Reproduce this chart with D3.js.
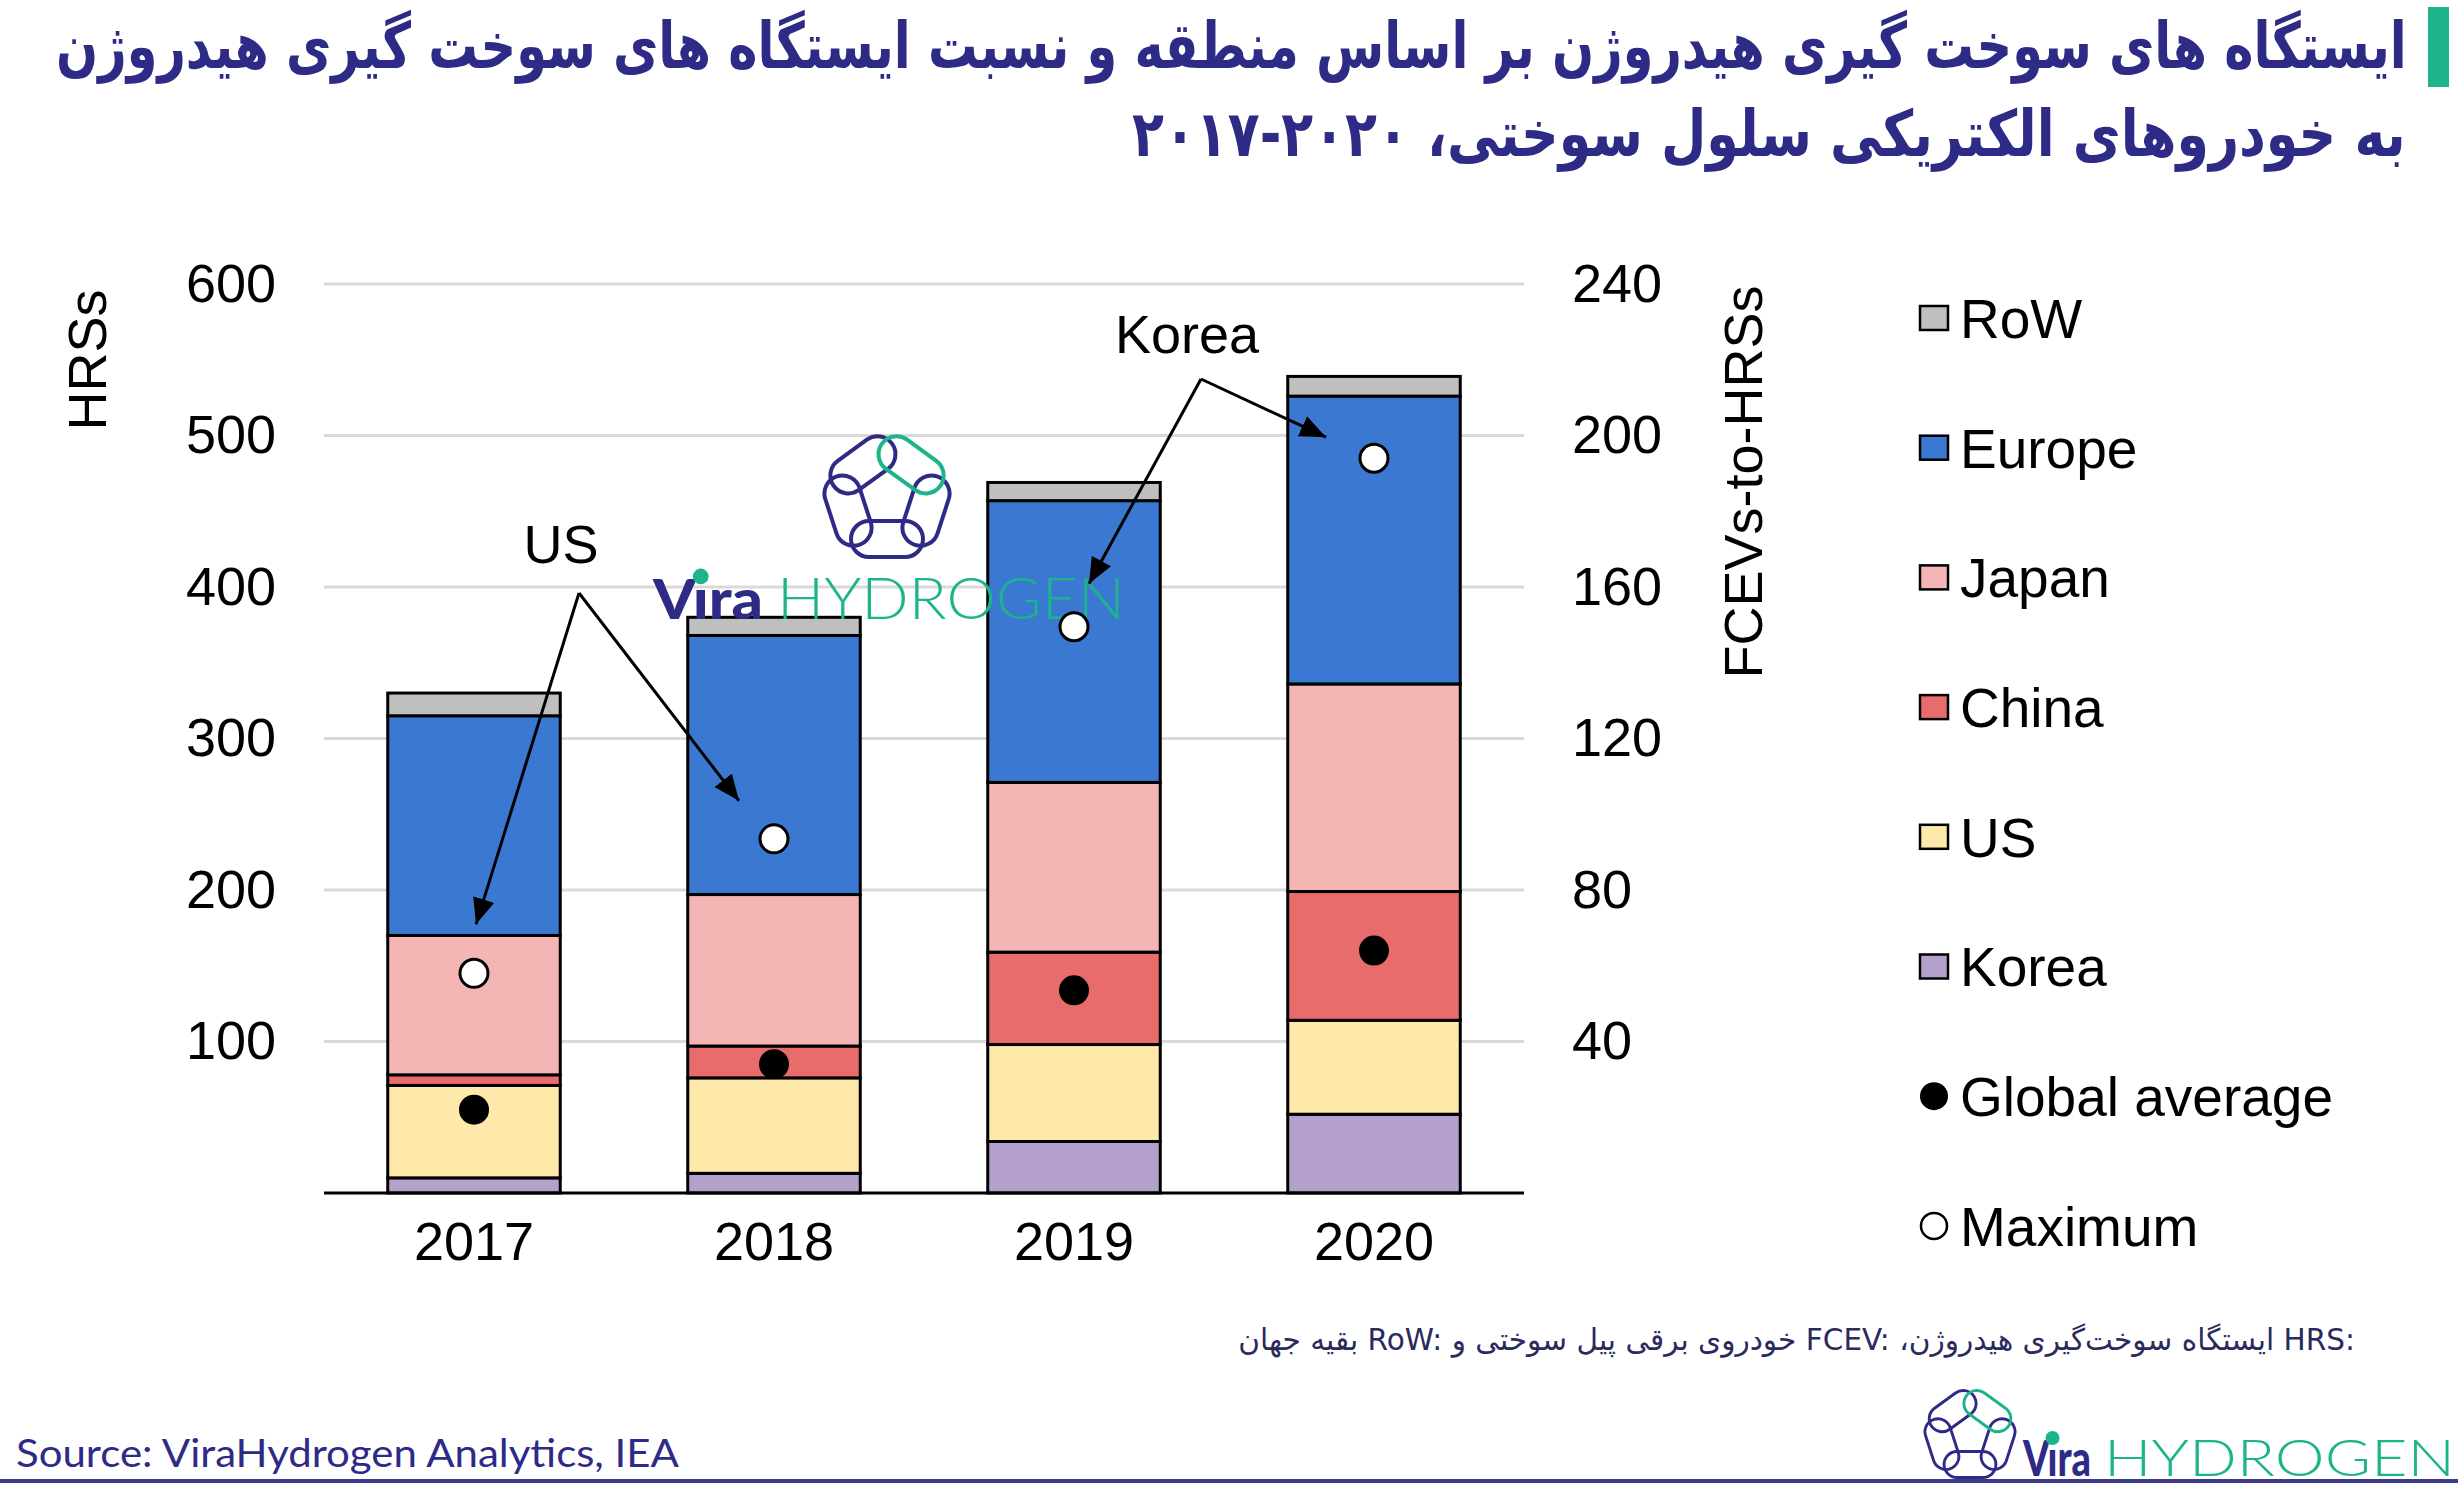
<!DOCTYPE html>
<html><head><meta charset="utf-8">
<script src="https://cdn.jsdelivr.net/npm/d3@7"></script>
<style>html,body{margin:0;padding:0;background:#fff;} svg{display:block}</style>
</head><body>
<svg id="c" width="2458" height="1487"></svg>
<script>
// ---------------- data ----------------
const years = ["2017", "2018", "2019", "2020"];
const regions = ["Korea", "US", "China", "Japan", "Europe", "RoW"];   // stack order bottom→top
const korea  = [10, 13, 34, 52];
const us     = [61, 63, 64, 62];
const china  = [7, 21, 61, 85];
const japan  = [92, 100, 112, 137];
const europe = [145, 171, 186, 190];
const row    = [15, 12, 12, 13];
const globalAverage = [22, 34, 53.5, 64];      // FCEVs per HRS (right axis)
const maximum       = [58, 93.5, 149.5, 194];  // FCEVs per HRS (right axis)
const leftTicks  = [100, 200, 300, 400, 500, 600];
const rightTicks = [40, 80, 120, 160, 200, 240];
const legendItems = ["RoW", "Europe", "Japan", "China", "US", "Korea", "Global average", "Maximum"];
const titleLines = [
  "ایستگاه های سوخت گیری هیدروژن بر اساس منطقه و نسبت ایستگاه های سوخت گیری هیدروژن",
  "به خودروهای الکتریکی سلول سوختی، ۲۰۲۰-۲۰۱۷"
];
const footnote = "HRS:\u200E ایستگاه سوخت\u200Cگیری هیدروژن، FCEV:\u200E خودروی برقی پیل سوختی و  RoW:\u200E بقیه جهان";
const sourceText = "Source: ViraHydrogen Analytics, IEA";

// ---------------- style ----------------
const colors = {RoW: "#bfbfbf", Europe: "#3b78d1", Japan: "#f4b6b5", China: "#e86c6b", US: "#fee8aa", Korea: "#b3a0cb"};
const navy = "#2e2b87", green = "#1db38b";
const font = "'Liberation Sans', Arial, sans-serif";
const fs = 54;

const svg = d3.select("#c");
svg.append("defs").append("marker").attr("id", "ah")
  .attr("markerUnits", "userSpaceOnUse").attr("markerWidth", 28).attr("markerHeight", 24)
  .attr("refX", 26).attr("refY", 11).attr("orient", "auto")
  .append("path").attr("d", "M0,0 L26,11 L0,22 Z").attr("fill", "#000");

const x = d3.scaleBand().domain(years).range([324, 1524]).paddingInner(0.425).paddingOuter(0.2125);
const y = d3.scaleLinear().domain([0, 600]).range([1193, 284]);
const yR = d3.scaleLinear().domain([0, 240]).range([1193, 284]);

// gridlines
svg.append("g").selectAll("line").data(leftTicks).join("line")
  .attr("x1", 324).attr("x2", 1524).attr("y1", d => y(d)).attr("y2", d => y(d))
  .attr("stroke", "#d9d9d9").attr("stroke-width", 3);

// axes
function styleAxis(g) {
  g.select(".domain").remove();
  g.selectAll("text").attr("font-family", font).attr("font-size", fs).attr("fill", "#000");
}
svg.append("g").attr("transform", "translate(276,0)")
  .call(d3.axisLeft(y).tickValues(leftTicks).tickSize(0).tickPadding(0)).call(styleAxis);
svg.append("g").attr("transform", "translate(1572,0)")
  .call(d3.axisRight(yR).tickValues(rightTicks).tickSize(0).tickPadding(0)).call(styleAxis);
svg.append("g").attr("transform", "translate(0,1193)")
  .call(d3.axisBottom(x).tickSize(0).tickPadding(29)).call(styleAxis);

// axis titles
svg.append("text").attr("transform", "translate(87,360) rotate(-90)")
  .attr("text-anchor", "middle").attr("dy", "0.35em")
  .attr("font-family", font).attr("font-size", fs).text("HRSs");
svg.append("text").attr("transform", "translate(1743,482) rotate(-90)")
  .attr("text-anchor", "middle").attr("dy", "0.35em")
  .attr("font-family", font).attr("font-size", fs).text("FCEVs-to-HRSs");

// stacked bars
const table = years.map((yr, i) => ({year: yr, Korea: korea[i], US: us[i], China: china[i], Japan: japan[i], Europe: europe[i], RoW: row[i]}));
const series = d3.stack().keys(regions)(table);
svg.append("g").selectAll("g").data(series).join("g")
  .attr("fill", d => colors[d.key])
  .selectAll("rect").data(d => d).join("rect")
  .attr("x", d => x(d.data.year)).attr("width", x.bandwidth())
  .attr("y", d => y(d[1])).attr("height", d => y(d[0]) - y(d[1]))
  .attr("stroke", "#000").attr("stroke-width", 3);

// baseline
svg.append("line").attr("x1", 324).attr("x2", 1524).attr("y1", y(0)).attr("y2", y(0))
  .attr("stroke", "#000").attr("stroke-width", 3);

// logo helpers
function drawIcon(g, cx, cy, s) {
  const a = 41 * s, L = 72 * s, W = 36 * s, sw = 4 * s;
  [90, 162, 234, 18, 306].forEach(ang => {
    const rad = ang * Math.PI / 180;
    g.append("rect").attr("x", -L / 2).attr("y", -W / 2).attr("width", L).attr("height", W).attr("rx", W / 2)
      .attr("transform", `translate(${cx + a * Math.cos(rad)},${cy + a * Math.sin(rad)}) rotate(${ang - 90})`)
      .attr("fill", "none").attr("stroke", ang === 306 ? green : navy).attr("stroke-width", sw);
  });
}
function drawWordmark(g, xV, wV, xH, wH, base, size) {
  const v = g.append("text").attr("x", xV).attr("y", base)
    .attr("font-family", "Lato, 'Open Sans', sans-serif").attr("font-weight", 900).attr("font-size", size)
    .attr("fill", navy).attr("textLength", wV).attr("lengthAdjust", "spacingAndGlyphs").text("V\u0131ra");
  g.append("text").attr("x", xH).attr("y", base)
    .attr("font-family", "Lato, 'Open Sans', sans-serif").attr("font-weight", 300).attr("font-size", size * 1.02)
    .attr("fill", green).attr("textLength", wH).attr("lengthAdjust", "spacingAndGlyphs").text("HYDROGEN");
  try {
    const e = v.node().getExtentOfChar(1);
    g.append("circle").attr("cx", e.x + e.width / 2).attr("cy", base - size * 0.76).attr("r", size * 0.14).attr("fill", green);
  } catch (err) {}
}

// watermark
const wm = svg.append("g");
drawIcon(wm, 887, 498, 1);
drawWordmark(wm, 653, 110, 777, 348, 619, 56);

// dots
svg.append("g").selectAll("circle").data(globalAverage).join("circle")
  .attr("cx", (d, i) => x(years[i]) + x.bandwidth() / 2).attr("cy", d => yR(d)).attr("r", 15).attr("fill", "#000");
svg.append("g").selectAll("circle").data(maximum).join("circle")
  .attr("cx", (d, i) => x(years[i]) + x.bandwidth() / 2).attr("cy", d => yR(d)).attr("r", 14)
  .attr("fill", "#fff").attr("stroke", "#000").attr("stroke-width", 3);

// annotations (arrows point toward the Maximum markers)
const annotations = [
  {label: "US", lx: 561, ly: 544, ox: 579, oy: 593, targets: [{i: 0, dx: 2, dy: -49}, {i: 1, dx: -35, dy: -38}]},
  {label: "Korea", lx: 1187, ly: 334, ox: 1201, oy: 379, targets: [{i: 2, dx: 15, dy: -43}, {i: 3, dx: -48, dy: -21}]}
];
annotations.forEach(a => {
  svg.append("text").attr("x", a.lx).attr("y", a.ly).attr("dy", "0.36em").attr("text-anchor", "middle")
    .attr("font-family", font).attr("font-size", fs).text(a.label);
  a.targets.forEach(t => {
    svg.append("line").attr("x1", a.ox).attr("y1", a.oy)
      .attr("x2", x(years[t.i]) + x.bandwidth() / 2 + t.dx).attr("y2", yR(maximum[t.i]) + t.dy)
      .attr("stroke", "#000").attr("stroke-width", 3).attr("marker-end", "url(#ah)");
  });
});

// legend
const lg = svg.append("g");
legendItems.forEach((k, i) => {
  const cy = 318 + i * 129.7;
  if (colors[k]) {
    lg.append("rect").attr("x", 1920).attr("y", cy - 12).attr("width", 28).attr("height", 24)
      .attr("fill", colors[k]).attr("stroke", "#000").attr("stroke-width", 2.5);
  } else if (k === "Global average") {
    lg.append("circle").attr("cx", 1934).attr("cy", cy).attr("r", 14).attr("fill", "#000");
  } else {
    lg.append("circle").attr("cx", 1934).attr("cy", cy).attr("r", 13).attr("fill", "#fff").attr("stroke", "#000").attr("stroke-width", 2.5);
  }
  lg.append("text").attr("x", 1960).attr("y", cy).attr("dy", "0.36em")
    .attr("font-family", font).attr("font-size", 55).text(k);
});

// Fit a text to a given width by choosing its font size, then stretch it vertically
// so it looks like the tall condensed face of the reference.
function fitText(sel, right, width, baseY, visualSize, rtl) {
  sel.attr("font-size", visualSize);
  const w0 = sel.node().getComputedTextLength();
  const f = visualSize * width / w0;
  sel.attr("font-size", f);
  const b = sel.node().getBBox();
  const dx = right - (b.x + b.width);
  const sy = visualSize / f;
  sel.attr("transform", `translate(${dx},${baseY}) scale(1,${sy}) translate(0,${-baseY})`);
}
const t1 = svg.append("text").attr("x", 2406).attr("y", 68)
  .attr("font-family", "'DejaVu Sans', sans-serif").attr("font-weight", "bold").attr("fill", navy).text(titleLines[0]);
fitText(t1, 2406, 2351, 68, 64);
const t2 = svg.append("text").attr("x", 2406).attr("y", 156)
  .attr("font-family", "'DejaVu Sans', sans-serif").attr("font-weight", "bold").attr("fill", navy).text(titleLines[1]);
fitText(t2, 2406, 1274, 156, 64);
svg.append("rect").attr("x", 2428).attr("y", 7).attr("width", 21).attr("height", 80).attr("fill", green);

// footnote (right-to-left paragraph)
const fn = svg.append("text").attr("x", 2355).attr("y", 1350).attr("direction", "rtl")
  .attr("font-family", "'DejaVu Sans', sans-serif").attr("fill", "#2a2a5c").text(footnote);
fitText(fn, 2355, 1117, 1350, 30);

// source + bottom rule
svg.append("text").attr("x", 16).attr("y", 1467)
  .attr("font-family", "Lato, 'Open Sans', sans-serif").attr("font-size", 38).attr("fill", navy)
  .attr("textLength", 663).attr("lengthAdjust", "spacingAndGlyphs").text(sourceText);
svg.append("rect").attr("x", 0).attr("y", 1479).attr("width", 2458).attr("height", 4).attr("fill", "#3b3a8c");

// bottom logo
const bl = svg.append("g");
drawIcon(bl, 1970, 1435, 0.72);
drawWordmark(bl, 2023, 68, 2104, 351, 1476, 50);
</script>
</body></html>
